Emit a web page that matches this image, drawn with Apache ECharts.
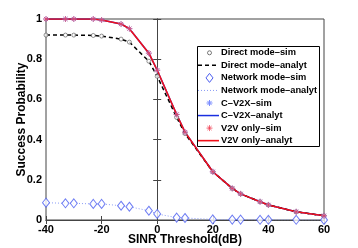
<!DOCTYPE html>
<html><head><meta charset="utf-8">
<script src="https://cdn.jsdelivr.net/npm/echarts@6/dist/echarts.min.js"></script>
<style>html,body{margin:0;padding:0;background:#fff}#c{width:358px;height:248px}</style>
</head><body><div id="c"></div>
<script>
var sinr = [-40,-33,-30,-23,-20,-13,-10,-3,0,7,10,20,27,30,37,40,50,60];
var directSim = [0.92,0.92,0.92,0.918,0.915,0.90,0.885,0.79,0.715,0.51,0.43,0.24,0.157,0.13,0.091,0.075,0.041,0.021];
var directAnalyt = [0.92,0.92,0.92,0.918,0.915,0.90,0.885,0.79,0.715,0.51,0.43,0.24,0.157,0.13,0.091,0.075,0.041,0.021];
var networkSim = [0.086,0.083,0.083,0.08,0.08,0.071,0.066,0.046,0.03,0.012,0.01,0.003,0.002,0.002,0.001,0.001,0.001,0.0];
var networkAnalyt = [0.086,0.083,0.083,0.08,0.08,0.071,0.066,0.046,0.03,0.012,0.01,0.003,0.002,0.002,0.001,0.001,0.001,0.0];
var cv2xSim = [1,1,1,1,0.995,0.975,0.952,0.83,0.745,0.525,0.437,0.24,0.157,0.13,0.091,0.075,0.041,0.021];
var cv2xAnalyt = [1,1,1,1,0.995,0.975,0.952,0.83,0.745,0.525,0.437,0.24,0.157,0.13,0.091,0.075,0.041,0.021];
var v2vSim = [1,1,1,1,0.995,0.975,0.952,0.83,0.745,0.525,0.437,0.24,0.157,0.13,0.091,0.075,0.041,0.021];
var v2vAnalyt = [1,1,1,1,0.995,0.975,0.952,0.83,0.745,0.525,0.437,0.24,0.157,0.13,0.091,0.075,0.041,0.021];
var xTicks = [-40,-20,0,20,40,60];
var names = ['Direct mode\u2013sim','Direct mode\u2013analyt','Network mode\u2013sim','Network mode\u2013analyt','C\u2013V2X\u2013sim','C\u2013V2X\u2013analyt','V2V only\u2013sim','V2V only\u2013analyt'];

function pairs(v){ return sinr.map(function(x,i){ return [x, v[i]]; }); }
var ast = 'path://M5,0L5,10M0,5L10,5M1.6,1.6L8.4,8.4M8.4,1.6L1.6,8.4';
var font = 'Liberation Sans, Arial, sans-serif';
var axisCol = '#444';
var C = {
  dirSim:'#555', dirLine:'#000', netSim:'#4a5cf0', netLine:'#8a9cf5',
  cvSim:'#7a8cff', cvLine:'#1a2fe0', v2vSim:'rgba(240,60,80,0.75)', v2vLine:'#f0101a'
};

// legend drawn as graphics
var LX = 197, LY = 46, LW = 122, LH = 100, step = 12.55, y0 = 52.8;
var icx = 209.5, lx1 = 198, lx2 = 219, tx = 221;
var leg = [{type:'rect', shape:{x:LX+0.5,y:LY+0.5,width:LW,height:LH}, style:{fill:'#fff',stroke:'#000',lineWidth:1}}];
function yy(i){ return y0 + i*step; }
function astEl(cx, cy, r, col){
  var d = r*0.7;
  return {type:'group', children:[
    {type:'line', shape:{x1:cx-r,y1:cy,x2:cx+r,y2:cy}, style:{stroke:col,lineWidth:1}},
    {type:'line', shape:{x1:cx,y1:cy-r,x2:cx,y2:cy+r}, style:{stroke:col,lineWidth:1}},
    {type:'line', shape:{x1:cx-d,y1:cy-d,x2:cx+d,y2:cy+d}, style:{stroke:col,lineWidth:1}},
    {type:'line', shape:{x1:cx+d,y1:cy-d,x2:cx-d,y2:cy+d}, style:{stroke:col,lineWidth:1}}
  ]};
}
leg.push({type:'circle', shape:{cx:icx,cy:yy(0),r:2}, style:{fill:'#fff',stroke:C.dirSim,lineWidth:0.8}});
leg.push({type:'line', shape:{x1:lx1,y1:yy(1),x2:lx2,y2:yy(1)}, style:{stroke:C.dirLine,lineWidth:1.5,lineDash:[4,3]}});
leg.push({type:'polygon', shape:{points:[[icx,yy(2)-4.5],[icx+3.5,yy(2)],[icx,yy(2)+4.5],[icx-3.5,yy(2)]]}, style:{fill:'#fff',stroke:C.netSim,lineWidth:1}});
leg.push({type:'line', shape:{x1:lx1,y1:yy(3),x2:lx2,y2:yy(3)}, style:{stroke:C.netLine,lineWidth:1,lineDash:[1,2]}});
leg.push(astEl(icx, yy(4), 3, C.cvSim));
leg.push({type:'line', shape:{x1:lx1,y1:yy(5),x2:lx2,y2:yy(5)}, style:{stroke:C.cvLine,lineWidth:1.5}});
leg.push(astEl(icx, yy(6), 3, C.v2vSim));
leg.push({type:'line', shape:{x1:lx1,y1:yy(7),x2:lx2,y2:yy(7)}, style:{stroke:C.v2vLine,lineWidth:1.6}});
names.forEach(function(n,i){
  leg.push({type:'text', x:tx, y:yy(i), style:{text:n, fill:'#000', font:'bold 9.3px '+font, textVerticalAlign:'middle', verticalAlign:'middle', align:'left'}});
});

var chart = echarts.init(document.getElementById('c'), null, {renderer:'canvas'});
chart.setOption({
  animation:false,
  backgroundColor:'#fff',
  grid:{left:46,right:34,top:19,bottom:28,show:true,borderColor:axisCol,borderWidth:1,containLabel:false,outerBoundsMode:'none'},
  graphic:[{type:'group', z:100, children:leg}],
  xAxis:[{
    type:'value', min:-40, max:60, interval:20,
    name:'SINR Threshold(dB)', nameLocation:'middle', nameGap:14, nameMoveOverlap:false,
    nameTextStyle:{fontFamily:font,fontSize:12,fontWeight:'bold',color:'#000'},
    axisLine:{lineStyle:{color:axisCol}}, axisTick:{inside:true,length:4,lineStyle:{color:axisCol}},
    axisLabel:{fontFamily:font,fontSize:11,fontWeight:'bold',color:'#000',margin:4},
    splitLine:{show:false}
  },{
    type:'value', position:'top', min:-40, max:60, interval:20,
    axisLine:{lineStyle:{color:axisCol}}, axisTick:{inside:true,length:4,lineStyle:{color:axisCol}},
    axisLabel:{show:false}, splitLine:{show:false}
  }],
  yAxis:[{
    type:'value', min:0, max:1, interval:0.2,
    name:'Success Probability', nameLocation:'middle', nameGap:18, nameMoveOverlap:false,
    nameTextStyle:{fontFamily:font,fontSize:12,fontWeight:'bold',color:'#000'},
    axisLine:{show:true,lineStyle:{color:axisCol}}, axisTick:{show:true,inside:true,length:4,lineStyle:{color:axisCol}},
    axisLabel:{fontFamily:font,fontSize:11,fontWeight:'bold',color:'#000',margin:4},
    splitLine:{show:false}
  },{
    type:'value', position:'right', min:0, max:1, interval:0.2,
    axisLine:{show:true,lineStyle:{color:axisCol}}, axisTick:{show:true,inside:true,length:4,lineStyle:{color:axisCol}},
    axisLabel:{show:false}, splitLine:{show:false}
  }],
  series:[
    {name:names[0], type:'scatter', data:pairs(directSim), symbol:'circle', symbolSize:4,
      itemStyle:{color:'#fff', borderColor:C.dirSim, borderWidth:0.8}, z:5},
    {name:names[1], type:'line', data:pairs(directAnalyt), symbol:'none',
      lineStyle:{color:C.dirLine, width:1.5, type:[4,3]}, z:4},
    {name:names[2], type:'scatter', data:pairs(networkSim), symbol:'diamond', symbolSize:[7,9],
      itemStyle:{color:'#fff', borderColor:C.netSim, borderWidth:1}, z:5},
    {name:names[3], type:'line', data:pairs(networkAnalyt), symbol:'none',
      lineStyle:{color:C.netLine, width:1, type:[1,2]}, z:3},
    {name:names[4], type:'scatter', data:pairs(cv2xSim), symbol:ast, symbolSize:6,
      itemStyle:{color:'transparent', borderColor:C.cvSim, borderWidth:1}, z:5},
    {name:names[5], type:'line', data:pairs(cv2xAnalyt), symbol:'none',
      lineStyle:{color:C.cvLine, width:1.5}, z:3},
    {name:names[6], type:'scatter', data:pairs(v2vSim), symbol:ast, symbolSize:6,
      itemStyle:{color:'transparent', borderColor:C.v2vSim, borderWidth:1}, z:6},
    {name:names[7], type:'line', data:pairs(v2vAnalyt), symbol:'none',
      lineStyle:{color:C.v2vLine, width:1.6}, z:4}
  ]
});
</script></body></html>
